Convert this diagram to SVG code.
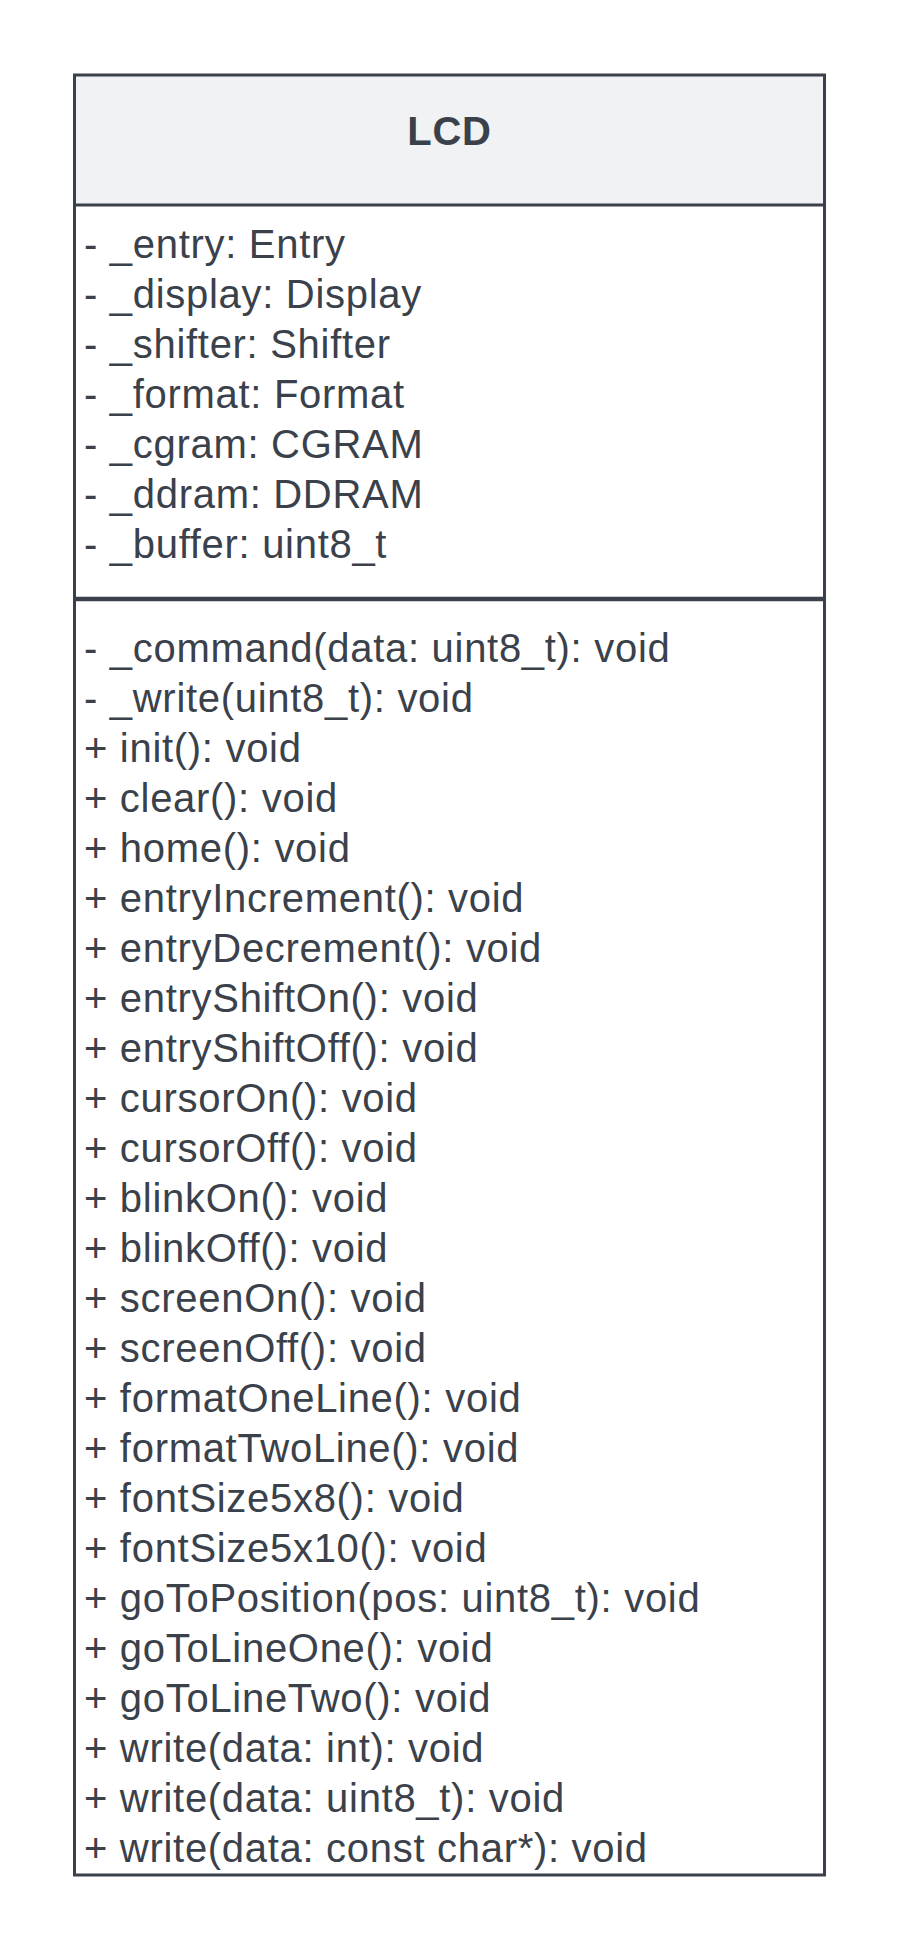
<svg xmlns="http://www.w3.org/2000/svg" width="900" height="1950" viewBox="0 0 900 1950">
<style>
.t{font-family:"Liberation Sans",Arial,sans-serif;font-size:40px;letter-spacing:0.7px;fill:#3a414a}
.title{font-family:"Liberation Sans",Arial,sans-serif;font-size:40px;font-weight:bold;letter-spacing:0.7px;fill:#3a414a}
.ln{stroke:#3a414a;fill:none}
</style>
<rect width="900" height="1950" fill="#ffffff"/>
<g id="LCD">
<rect x="74.5" y="75" width="750" height="130" fill="#f1f2f4"/>
<rect x="74.5" y="205" width="750" height="1670" fill="#ffffff"/>
<rect class="ln" x="74.5" y="75" width="750" height="1800" stroke-width="3"/>
<line class="ln" x1="74.5" y1="205" x2="824.5" y2="205" stroke-width="3"/>
<line class="ln" x1="74.5" y1="599" x2="824.5" y2="599" stroke-width="4.5"/>
<text class="title" x="449.5" y="145" text-anchor="middle">LCD</text>
<text class="t" x="84" y="258.3">- _entry: Entry</text>
<text class="t" x="84" y="308.3">- _display: Display</text>
<text class="t" x="84" y="358.3">- _shifter: Shifter</text>
<text class="t" x="84" y="408.3">- _format: Format</text>
<text class="t" x="84" y="458.3">- _cgram: CGRAM</text>
<text class="t" x="84" y="508.3">- _ddram: DDRAM</text>
<text class="t" x="84" y="558.3">- _buffer: uint8_t</text>
<text class="t" x="84" y="662">- _command(data: uint8_t): void</text>
<text class="t" x="84" y="712">- _write(uint8_t): void</text>
<text class="t" x="84" y="762">+ init(): void</text>
<text class="t" x="84" y="812">+ clear(): void</text>
<text class="t" x="84" y="862">+ home(): void</text>
<text class="t" x="84" y="912">+ entryIncrement(): void</text>
<text class="t" x="84" y="962">+ entryDecrement(): void</text>
<text class="t" x="84" y="1012">+ entryShiftOn(): void</text>
<text class="t" x="84" y="1062">+ entryShiftOff(): void</text>
<text class="t" x="84" y="1112">+ cursorOn(): void</text>
<text class="t" x="84" y="1162">+ cursorOff(): void</text>
<text class="t" x="84" y="1212">+ blinkOn(): void</text>
<text class="t" x="84" y="1262">+ blinkOff(): void</text>
<text class="t" x="84" y="1312">+ screenOn(): void</text>
<text class="t" x="84" y="1362">+ screenOff(): void</text>
<text class="t" x="84" y="1412">+ formatOneLine(): void</text>
<text class="t" x="84" y="1462">+ formatTwoLine(): void</text>
<text class="t" x="84" y="1512">+ fontSize5x8(): void</text>
<text class="t" x="84" y="1562">+ fontSize5x10(): void</text>
<text class="t" x="84" y="1612">+ goToPosition(pos: uint8_t): void</text>
<text class="t" x="84" y="1662">+ goToLineOne(): void</text>
<text class="t" x="84" y="1712">+ goToLineTwo(): void</text>
<text class="t" x="84" y="1762">+ write(data: int): void</text>
<text class="t" x="84" y="1812">+ write(data: uint8_t): void</text>
<text class="t" x="84" y="1862">+ write(data: const char*): void</text>
</g>
<g id="connectors"/>
</svg>
